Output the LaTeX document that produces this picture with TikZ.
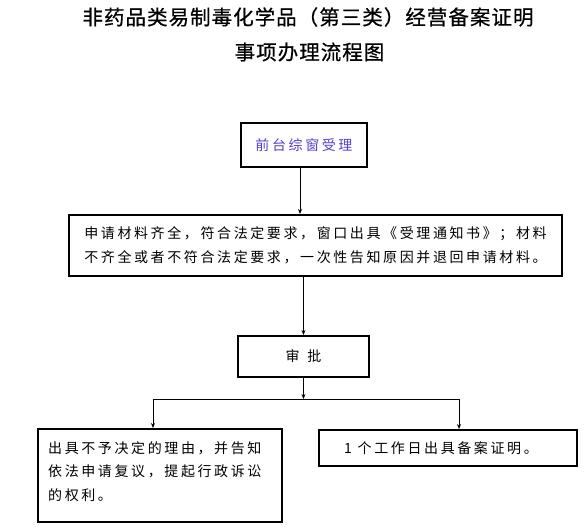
\documentclass[tikz,border=0pt]{standalone}
\usepackage{fontspec}
\usetikzlibrary{arrows.meta}
\newfontfamily\cjkbody[LetterSpace=18.6]{Noto Sans CJK SC}
\newfontfamily\cjktitle[LetterSpace=5,FakeBold=0.6]{Noto Sans CJK SC}
\definecolor{accblue}{RGB}{90,60,210}
\begin{document}
\begin{tikzpicture}[x=1pt,y=-1pt,
  box/.style={draw,line width=2pt,rectangle,inner sep=0pt},
  arr/.style={-{Stealth[length=5pt,width=4pt]},line width=0.8pt},
  body/.style={font=\fontsize{14pt}{23.5pt}\cjkbody},
  ttl/.style={font=\fontsize{20.5pt}{24pt}\cjktitle}]
\useasboundingbox (0,0) rectangle (587,531);
\node[ttl] (t1) at (308,17) {非药品类易制毒化学品（第三类）经营备案证明};
\node[ttl] (t2) at (309.5,52) {事项办理流程图};
\node[box,body,text=accblue,minimum width=126pt,minimum height=44pt] (b1) at (304,145) {前台综窗受理};
\node[box,body,align=left,minimum width=493pt,minimum height=61pt] (b2) at (315.5,245.5)
  {申请材料齐全，符合法定要求，窗口出具《受理通知书》；材料\\不齐全或者不符合法定要求，一次性告知原因并退回申请材料。};
\node[box,body,minimum width=131pt,minimum height=41pt] (b3) at (303.5,356.5) {审\hspace{8pt}批};
\node[box,minimum width=244pt,minimum height=93pt] (b4) at (160,475.5) {};
\node[body,align=left,anchor=west,inner sep=0pt] (b4t) at (48,471.5)
  {出具不予决定的理由，并告知\\依法申请复议，提起行政诉讼\\的权利。};
\node[box,body,minimum width=258pt,minimum height=36pt] (b5) at (448,448) {};
\node[body,inner sep=0pt] (b5t) at (441,448) {1 个工作日出具备案证明。};
\coordinate (sp) at (303,399);
\coordinate (L) at (153,399);
\coordinate (R) at (459,399);
\draw[arr] ([xshift=-4pt]b1.south) -- ([xshift=-4pt]b1.south |- b2.north);
\draw[arr] (b2.south -| b3.north) -- (b3.north);
\draw[arr] (b3.south) -- (b3.south |- sp);
\draw[line width=0.8pt] (L) -- (R);
\draw[arr] (L) -- (L |- b4.north);
\draw[arr] (R) -- (R |- b5.north);
\end{tikzpicture}
\end{document}
